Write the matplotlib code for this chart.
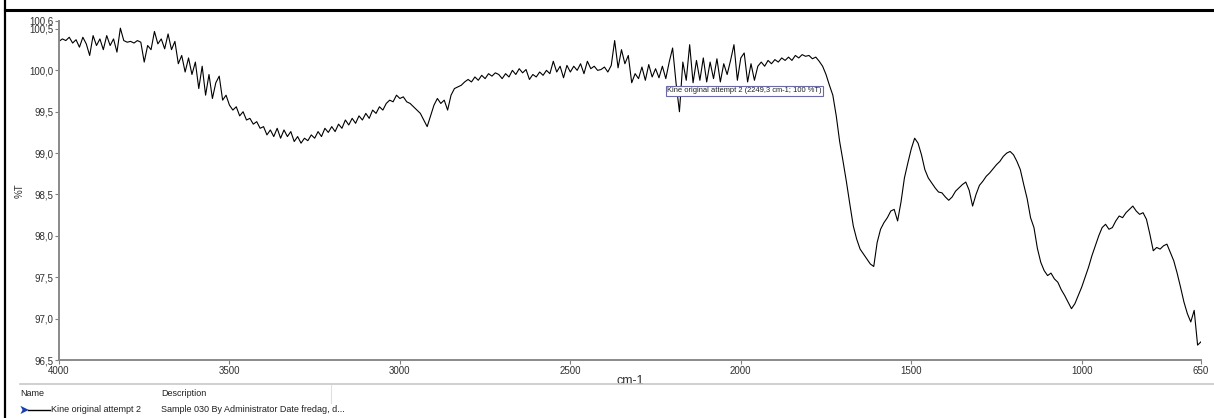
import matplotlib
matplotlib.use("Agg")
import matplotlib.pyplot as plt
from matplotlib.ticker import FuncFormatter
from matplotlib.lines import Line2D
import numpy as np

plt.rcParams['font.family'] = ['Liberation Sans', 'DejaVu Sans']

# IR-spectrum, %T, 10 cm-1 opplosning fra 4000 til 650
wn_start, wn_end, wn_step = 4000, 650, 10
transmittance = [
    100.35, 100.38, 100.36, 100.40, 100.33, 100.37, 100.28, 100.40, 100.32, 100.18,  # 4000
    100.42, 100.30, 100.38, 100.25, 100.42, 100.30, 100.38, 100.22, 100.51, 100.36,  # 3900
    100.34, 100.35, 100.33, 100.36, 100.34, 100.10, 100.30, 100.25, 100.47, 100.32,  # 3800
    100.38, 100.26, 100.44, 100.25, 100.35, 100.08, 100.18, 99.98, 100.15, 99.95,    # 3700
    100.10, 99.78, 100.05, 99.70, 99.95, 99.66, 99.85, 99.93, 99.64, 99.70,          # 3600
    99.58, 99.52, 99.56, 99.45, 99.50, 99.40, 99.42, 99.35, 99.38, 99.30,            # 3500
    99.32, 99.22, 99.28, 99.20, 99.30, 99.18, 99.28, 99.20, 99.26, 99.14,            # 3400
    99.20, 99.12, 99.18, 99.15, 99.22, 99.18, 99.26, 99.20, 99.30, 99.25,            # 3300
    99.32, 99.26, 99.35, 99.30, 99.40, 99.34, 99.42, 99.36, 99.45, 99.40,            # 3200
    99.48, 99.42, 99.52, 99.48, 99.56, 99.52, 99.60, 99.64, 99.62, 99.70,            # 3100
    99.66, 99.68, 99.62, 99.60, 99.56, 99.52, 99.48, 99.40, 99.32, 99.45,            # 3000
    99.58, 99.66, 99.60, 99.64, 99.52, 99.70, 99.78, 99.80, 99.82, 99.86,            # 2900
    99.89, 99.86, 99.92, 99.88, 99.94, 99.90, 99.96, 99.93, 99.97, 99.95,            # 2800
    99.90, 99.96, 99.92, 100.00, 99.95, 100.02, 99.97, 100.01, 99.89, 99.95,         # 2700
    99.92, 99.98, 99.94, 100.00, 99.96, 100.11, 99.98, 100.05, 99.91, 100.06,        # 2600
    99.98, 100.05, 100.00, 100.08, 99.96, 100.11, 100.02, 100.05, 100.00, 100.01,    # 2500
    100.04, 99.98, 100.06, 100.36, 100.03, 100.25, 100.08, 100.18, 99.85, 99.96,     # 2400
    99.90, 100.04, 99.88, 100.07, 99.92, 100.02, 99.91, 100.05, 99.90, 100.10,       # 2300
    100.27, 99.85, 99.50, 100.10, 99.88, 100.31, 99.85, 100.12, 99.88, 100.15,       # 2200
    99.86, 100.10, 99.90, 100.14, 99.86, 100.08, 99.95, 100.12, 100.31, 99.88,       # 2100
    100.15, 100.21, 99.86, 100.08, 99.88, 100.05, 100.10, 100.05, 100.12, 100.08,    # 2000
    100.13, 100.10, 100.15, 100.12, 100.16, 100.12, 100.18, 100.15, 100.19, 100.17,  # 1900
    100.18, 100.14, 100.16, 100.11, 100.05, 99.95, 99.82, 99.70, 99.45, 99.14,       # 1800
    98.90, 98.65, 98.38, 98.12, 97.96, 97.84, 97.78, 97.72, 97.66, 97.63,            # 1700
    97.92, 98.08, 98.16, 98.22, 98.30, 98.32, 98.18, 98.41, 98.70, 98.88,            # 1600
    99.05, 99.18, 99.12, 98.98, 98.80, 98.70, 98.64, 98.58, 98.53, 98.52,            # 1500
    98.47, 98.43, 98.47, 98.54, 98.58, 98.62, 98.65, 98.55, 98.36, 98.50,            # 1400
    98.61, 98.66, 98.72, 98.76, 98.81, 98.86, 98.90, 98.96, 99.00, 99.02,            # 1300
    98.98, 98.90, 98.80, 98.62, 98.45, 98.22, 98.10, 97.85, 97.68, 97.58,            # 1200
    97.52, 97.55, 97.48, 97.44, 97.35, 97.28, 97.20, 97.12, 97.18, 97.28,            # 1100
    97.38, 97.50, 97.62, 97.76, 97.88, 98.00, 98.10, 98.14, 98.08, 98.10,            # 1000
    98.18, 98.24, 98.22, 98.28, 98.32, 98.36, 98.30, 98.26, 98.28, 98.20,            # 900
    98.02, 97.82, 97.86, 97.84, 97.88, 97.90, 97.80, 97.70, 97.55, 97.38,            # 800
    97.20, 97.06, 96.96, 97.10, 96.68, 96.72,                                        # 700
]
wavenumber = np.arange(wn_start, wn_end - 1, -wn_step)
assert len(wavenumber) == len(transmittance)

x_ticks = [4000, 3500, 3000, 2500, 2000, 1500, 1000, 650]
y_ticks = [96.5, 97.0, 97.5, 98.0, 98.5, 99.0, 99.5, 100.0, 100.5, 100.6]

series_name = "Kine original attempt 2"
series_desc = "Sample 030 By Administrator Date fredag, d..."
cursor_text = "Kine original attempt 2 (2249,3 cm-1; 100 %T)"

fig = plt.figure(figsize=(12.14, 4.18), dpi=100)
ax = fig.add_axes([59 / 1214, 58 / 418, 1142 / 1214, 339.3 / 418])

ax.plot(wavenumber, transmittance, color='black', lw=0.8)
ax.set_xlim(4000, 650)
ax.set_ylim(96.5, 100.6)

ax.set_xticks(x_ticks)
ax.set_yticks(y_ticks)
ax.xaxis.set_major_formatter(FuncFormatter(lambda v, p: f"{v:.0f}"))
ax.yaxis.set_major_formatter(FuncFormatter(lambda v, p: f"{v:.1f}".replace('.', ',')))
ax.tick_params(axis='both', direction='out', length=3, width=0.8, color='#808080',
               labelsize=7, labelcolor='#303030', pad=1)

for side in ('top', 'right'):
    ax.spines[side].set_visible(False)
for side in ('left', 'bottom'):
    ax.spines[side].set_color('#8a8a8a')
    ax.spines[side].set_linewidth(1.4)

ax.set_xlabel("cm-1", fontsize=9, color='#303030', labelpad=0)
ax.xaxis.set_label_coords(0.5, -0.045)
ax.set_ylabel("%T", fontsize=7, color='#303030')
ax.yaxis.set_label_coords(-0.03, 0.5)

# markoer-tooltip
ax.text(2216, 99.754, cursor_text, fontsize=5.4, color='#202020', ha='left', va='center',
        bbox=dict(boxstyle='square,pad=0.2', fc='white', ec='#6a6aa8', lw=0.8))

# ramme rundt vinduet
fig.add_artist(Line2D([5 / 1214, 5 / 1214], [0, 1], color='black', lw=1.6))
fig.add_artist(Line2D([5 / 1214, 1], [1 - 10 / 418, 1 - 10 / 418], color='black', lw=2.2))

# liste over spektre under plottet
fig.add_artist(Line2D([20 / 1214, 1], [1 - 384 / 418] * 2, color='#c8c8c8', lw=1.2))
fig.add_artist(Line2D([331 / 1214] * 2, [1 - 385 / 418, 1 - 403 / 418], color='#e0e0e0', lw=0.8))
fig.text(20 / 1214, 1 - 393 / 418, "Name", fontsize=6.5, color='#202020', va='center')
fig.text(161 / 1214, 1 - 393 / 418, "Description", fontsize=6.5, color='#202020', va='center')
fig.text(19 / 1214, 1 - 410 / 418, "\u27a4", fontsize=9, color='#1a3fb0', va='center',
         family=['DejaVu Sans'])
fig.add_artist(Line2D([28 / 1214, 50 / 1214], [1 - 410 / 418] * 2, color='black', lw=1.0))
fig.text(51 / 1214, 1 - 410 / 418, series_name, fontsize=6.5, color='#202020', va='center')
fig.text(161 / 1214, 1 - 410 / 418, series_desc, fontsize=6.5, color='#202020', va='center')

fig.savefig("out.png", dpi=100, facecolor='white')
